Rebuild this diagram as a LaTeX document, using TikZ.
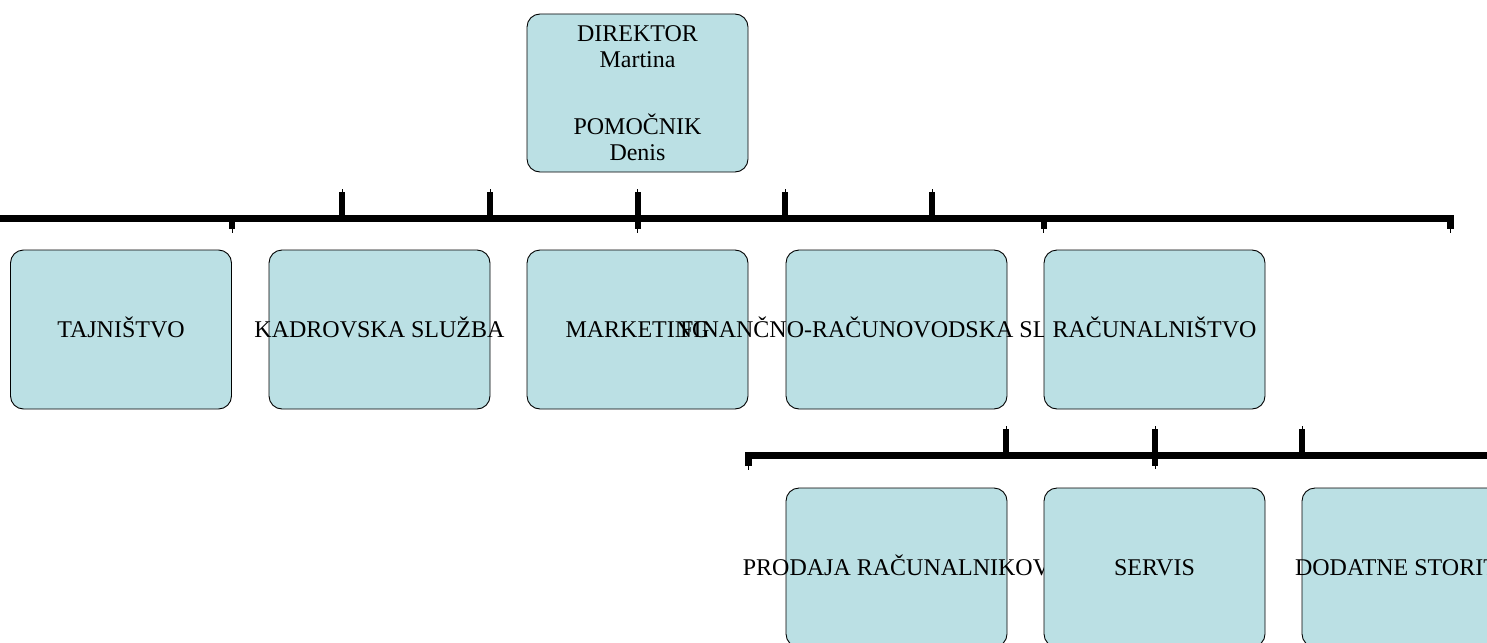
\documentclass[tikz,border=0pt]{standalone}
\usepackage{fontspec}
\setmainfont{Liberation Serif}
\definecolor{boxfill}{RGB}{187,224,228}
\begin{document}
\begin{tikzpicture}[x=1pt,y=-1pt,
  orgbox/.style={draw=black, line width=0.9pt, fill=boxfill, rounded corners=13pt,
    minimum width=221pt, minimum height=159pt, inner sep=0pt},
  boxtext/.style={inner sep=0pt, font=\fontsize{24}{26}\selectfont, align=center},
  linetext/.style={inner sep=0pt, font=\fontsize{24}{26}\selectfont, anchor=base},
  barline/.style={line width=7pt, line cap=butt, line join=miter},
  tickline/.style={line width=6pt, line cap=butt},
  thinline/.style={line width=1pt}]
\useasboundingbox (0,0) rectangle (1487,642);
\clip (0,0) rectangle (1487,642);

% top box
\node[orgbox, minimum height=158pt] (dir) at (637.5,93) {};
\node[boxtext] (dirt) at (dir) {DIREKTOR\\Martina\\[41pt]POMOČNIK\\Denis};

% first bar
\coordinate (b1l) at (0,218.5);
\coordinate (b1c) at (1450,218.5);
\coordinate (b1e) at (1450,229);
\draw[barline] (b1l) -- (b1c) -- (b1e);
\draw[thinline] (b1e) -- ++(0,4);
\foreach \x in {342,490,637.5,785,932} {
  \draw[tickline] (\x,192) -- (\x,218.5);
  \draw[thinline] (\x,189) -- (\x,192);
}
\foreach \x in {232,637.5,1043.5} {
  \draw[tickline] (\x,218.5) -- (\x,229);
  \draw[thinline] (\x,229) -- (\x,232.5);
}

% first row
\node[orgbox] (taj) at (121,329.5) {};
\node[linetext] (tajt) at ([yshift=-8pt]taj.center) {TAJNIŠTVO};
\node[orgbox] (kad) at (379.5,329.5) {};
\node[linetext] (kadt) at ([yshift=-8pt]kad.center) {KADROVSKA SLUŽBA};
\node[orgbox] (mar) at (637.5,329.5) {};
\node[linetext] (mart) at ([yshift=-8pt]mar.center) {MARKETING};
\node[orgbox] (fin) at (896.5,329.5) {};
\node[linetext] (fint) at ([yshift=-8pt]fin.center) {FINANČNO-RAČUNOVODSKA SLUŽBA};
\node[orgbox] (rac) at (1154.5,329.5) {};
\node[linetext] (ract) at ([yshift=-8pt]rac.center) {RAČUNALNIŠTVO};

% second bar
\coordinate (b2s) at (748,466);
\coordinate (b2c) at (748,455.5);
\coordinate (b2r) at (1495,455.5);
\draw[barline] (b2s) -- (b2c) -- (b2r);
\draw[thinline] (b2s) -- ++(0,4);
\foreach \x in {1006,1155,1302} {
  \draw[tickline] (\x,429) -- (\x,455.5);
  \draw[thinline] (\x,426) -- (\x,429);
}
\draw[tickline] (1155,455.5) -- (1155,466);
\draw[thinline] (1155,466) -- (1155,469);

% second row
\node[orgbox] (pro) at (896.5,567.5) {};
\node[linetext] (prot) at ([yshift=-8pt]pro.center) {PRODAJA RAČUNALNIKOV};
\node[orgbox] (ser) at (1154.5,567.5) {};
\node[linetext] (sert) at ([yshift=-8pt]ser.center) {SERVIS};
\node[orgbox] (dod) at (1412.5,567.5) {};
\node[linetext] (dodt) at ([yshift=-8pt]dod.center) {DODATNE STORITVE};
\end{tikzpicture}
\end{document}
